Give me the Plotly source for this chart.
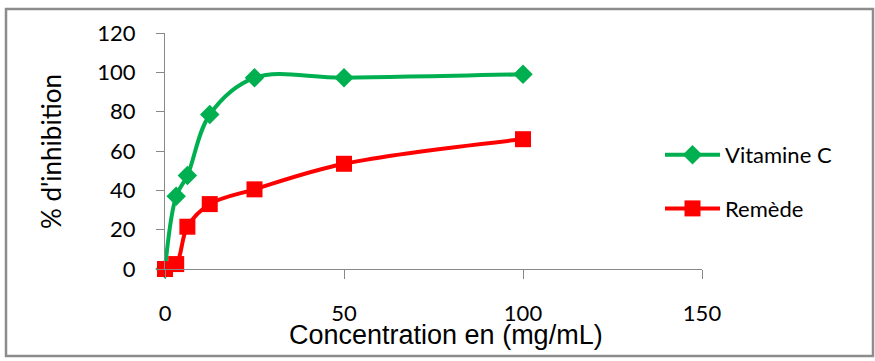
import plotly.graph_objects as go

concentration = [0, 3.125, 6.25, 12.5, 25, 50, 100]
vitamine_c = [0, 37, 47.5, 78.5, 97.2, 97.3, 99]
remede = [0, 2.5, 21.5, 33, 40.5, 53.5, 66]

x_ticks = [0, 50, 100, 150]
y_ticks = [0, 20, 40, 60, 80, 100, 120]

fig = go.Figure()
fig.add_trace(go.Scatter(
    x=concentration, y=vitamine_c, name="Vitamine C", mode="lines+markers",
    legendgroup="a",
    line=dict(color="#00B050", width=4, shape="spline", smoothing=1.0),
    marker=dict(symbol="diamond", size=15, color="#00B050"), cliponaxis=False))
fig.add_trace(go.Scatter(
    x=concentration, y=remede, name="Remède", mode="lines+markers",
    legendgroup="b",
    line=dict(color="#FF0000", width=4, shape="spline", smoothing=1.0),
    marker=dict(symbol="square", size=16, color="#FF0000"), cliponaxis=False))

L, R, T, B = 165, 173, 33, 92
W, H = 875, 361
pw, ph = W - L - R, H - T - B

def px(x):
    return (x - L) / pw

def py(y):
    return (H - B - y) / ph

fig.update_layout(
    width=W, height=H, margin=dict(l=L, r=R, t=T, b=B),
    paper_bgcolor="white", plot_bgcolor="white",
    font=dict(family="Lato", size=22, color="black"),
    showlegend=True,
    legend=dict(x=px(660), y=py(182), xanchor="left", yanchor="middle",
                font=dict(family="Lato", size=22), tracegroupgap=22,
                itemwidth=55, bgcolor="rgba(0,0,0,0)"),
    xaxis=dict(range=[0, 150], tickvals=x_ticks, showgrid=False, zeroline=False,
               showline=True, linecolor="#888888", linewidth=1,
               ticks="outside", ticklen=9, tickcolor="#888888",
               ticklabelstandoff=16,
               tickfont=dict(family="Lato", size=22)),
    yaxis=dict(range=[0, 120], tickvals=y_ticks, showgrid=False, zeroline=False,
               showline=True, linecolor="#888888", linewidth=1,
               ticks="outside", ticklen=8, tickcolor="#888888",
               ticklabelstandoff=16,
               tickfont=dict(family="Lato", size=22)),
    shapes=[dict(type="rect", xref="paper", yref="paper",
                 x0=px(6), x1=px(873), y0=py(356), y1=py(9),
                 line=dict(color="#8c8c8c", width=2.5))],
    annotations=[
        dict(text="% d'inhibition", xref="paper", yref="paper",
             x=px(51), y=py(152), textangle=-90, showarrow=False,
             font=dict(family="Lato", size=26), xanchor="center", yanchor="middle"),
        dict(text="Concentration en (mg/mL)", xref="paper", yref="paper",
             x=px(446), y=py(335), showarrow=False,
             font=dict(family="Liberation Sans", size=27), xanchor="center", yanchor="middle"),
    ],
)
fig.write_html("out.html", config={"displayModeBar": False},
               post_script="document.body.style.margin='0';document.body.style.overflow='hidden';")
